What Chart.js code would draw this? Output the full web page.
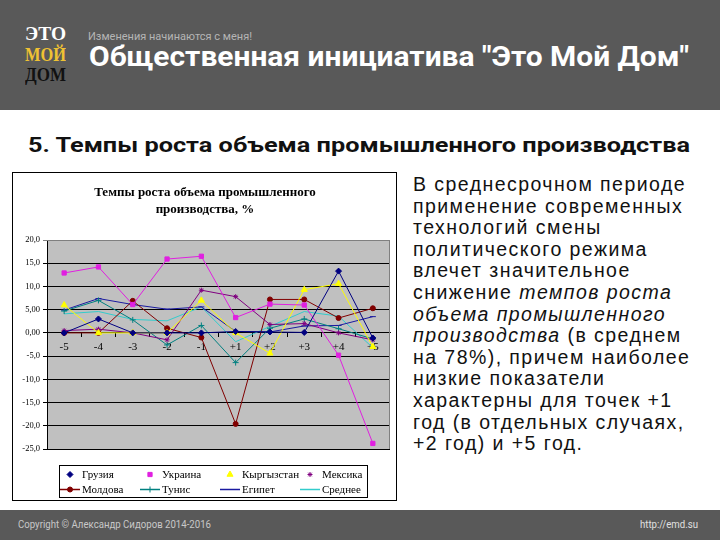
<!DOCTYPE html>
<html>
<head>
<meta charset="utf-8">
<script src="https://cdn.jsdelivr.net/npm/chart.js@4.4.1/dist/chart.umd.min.js"></script>
<style>
    html, body { margin: 0; padding: 0; }
    body { width: 720px; height: 540px; position: relative; overflow: hidden; background: #fff; font-family: 'Liberation Sans', Arial, sans-serif; }
    .band { position: absolute; left: 0; width: 720px; background: #595959; }
    .fit { position: absolute; white-space: nowrap; transform-origin: 0 0; display: inline-block; }
    .logo { font-family: 'Liberation Serif', serif; font-weight: bold; font-size: 18px; line-height: 18px; left: 25px; }
    #chartBox { position: absolute; left: 12px; top: 172px; width: 383px; height: 327px; border: 1px solid #000; }
    #note { position: absolute; left: 413px; top: 174px; font-size: 19.5px; line-height: 21.6px; color: #111; white-space: nowrap; }
</style>
</head>
<body>
<div class="band" style="top:0;height:110px"></div>
<div class="fit logo" style="top:25px;color:#fff" data-w="41">ЭТО</div>
<div class="fit logo" style="top:46px;color:#f0c233" data-w="41">МОЙ</div>
<div class="fit logo" style="top:66px;color:#111" data-w="41">ДОМ</div>
<div class="fit" style="left:88px;top:31px;font:11px/11px Roboto,sans-serif;color:#b5b5b5" data-w="164">Изменения начинаются с меня!</div>
<div class="fit" style="left:89px;top:43px;font:bold 28px/28px Roboto,sans-serif;color:#fff" data-w="600">Общественная инициатива "Это Мой Дом"</div>

<div class="fit" style="left:28px;top:135px;font:bold 20px/20px Roboto,sans-serif;color:#111" data-w="662">5. Темпы роста объема промышленного производства</div>

<div id="chartBox"><canvas id="lineChart" width="383" height="327"></canvas></div>

<div id="note"><span id="firstLine">В среднесрочном периоде</span><br>применение современных<br>технологий смены<br>политического режима<br>влечет значительное<br>снижение <i>темпов роста</i><br><i>объема промышленного</i><br><i>производства</i> (в среднем<br>на 78%), причем наиболее<br>низкие показатели<br>характерны для точек +1<br>год (в отдельных случаях,<br>+2 год) и +5 год.</div>

<div class="band" style="top:510px;height:30px"></div>
<div class="fit" style="left:18px;top:519px;font:11px/11px Roboto,sans-serif;color:#c8c8c8" data-w="193">Copyright © Александр Сидоров 2014-2016</div>
<div class="fit" style="left:640px;top:519px;font:11px/11px Roboto,sans-serif;color:#e0e0e0" data-w="58">http://emd.su</div>

<script>
// ── Данные графика ─────────────────────────────────────
const categories = ['-5', '-4', '-3', '-2', '-1', '+1', '+2', '+3', '+4', '+5'];
const yTickValues = [20, 15, 10, 5, 0, -5, -10, -15, -20, -25];
const yTickLabels = ['20,0', '15,0', '10,0', '5,00', '0,00', '-5,0', '-10,0', '-15,0', '-20,0', '-25,0'];

const georgia    = [0.0, 3.0, 0.0, 0.0, 0.0, 0.3, 0.2, 0.1, 13.3, -1.1];
const ukraine    = [12.9, 14.2, 6.1, 15.9, 16.5, 3.3, 6.2, 6.0, -4.8, -23.8];
const kyrgyzstan = [6.0, 0.0, 0.0, 0.0, 7.0, 0.0, -4.4, 9.3, 10.6, -3.0];
const mexico     = [0.5, 0.8, 0.0, -1.5, 9.2, 7.8, 1.8, 2.0, 0.0, -1.5];
const moldova    = [0.0, 0.0, 6.9, 1.0, -1.0, -19.6, 7.2, 7.2, 3.2, 5.3];
const tunisia    = [4.7, 7.0, 2.8, -2.6, 1.6, -6.4, 1.0, 3.0, 0.9, -1.3];
const egypt      = [4.9, 7.4, 6.1, 5.1, 5.6, 0.3, 0.2, 1.5, 1.6, 3.5];
const average    = [4.1, 4.6, 2.9, 2.6, 5.6, -1.9, 1.4, 4.6, 3.6, -3.2];

// ── Подгонка ширины текстов ───────────────────────────
document.querySelectorAll('.fit').forEach(el => {
    const w = el.getBoundingClientRect().width;
    el.style.transform = `scaleX(${+el.dataset.w / w})`;
});
(function () {
    const first = document.getElementById('firstLine');
    const w = first.getBoundingClientRect().width;
    document.getElementById('note').style.letterSpacing = ((273 - w) / first.textContent.length) + 'px';
})();

// ── Серия ──────────────────────────────────────────────
function series(label, data, color, pointStyle, radius, legendLine) {
    return {
        label, data,
        borderColor: color,
        backgroundColor: color,
        pointBackgroundColor: color,
        pointBorderColor: color,
        borderWidth: 1,
        pointStyle: pointStyle || 'circle',
        pointRadius: radius,
        pointBorderWidth: 1,
        tension: 0,
        legendLine
    };
}

// ── Серый фон области построения ───────────────────────
const plotBg = {
    id: 'plotBg',
    beforeDraw(chart) {
        const { ctx, chartArea: a } = chart;
        ctx.save();
        ctx.fillStyle = '#c0c0c0';
        ctx.fillRect(a.left, a.top, a.right - a.left, a.bottom - a.top);
        ctx.restore();
    },
    beforeDatasetsDraw(chart) {
        const { ctx, chartArea: a } = chart;
        ctx.save();
        ctx.strokeStyle = '#808080';
        ctx.lineWidth = 1;
        ctx.beginPath();
        ctx.moveTo(a.left, a.top + 0.5);
        ctx.lineTo(a.right - 0.5, a.top + 0.5);
        ctx.lineTo(a.right - 0.5, a.bottom);
        ctx.stroke();
        ctx.restore();
    }
};

// ── Заголовок и легенда в стиле Excel ──────────────────
const excelDeco = {
    id: 'excelDeco',
    afterDraw(chart) {
        const ctx = chart.ctx;
        ctx.save();
        ctx.fillStyle = '#000';
        ctx.textAlign = 'center';
        ctx.textBaseline = 'middle';
        ctx.font = 'bold 13px "Liberation Serif"';
        ctx.fillText('Темпы роста объема промышленного', 192, 20);
        ctx.fillText('производства, %', 192, 37);

        const x0 = 46, y0 = 292, w = 308, h = 32;
        ctx.fillStyle = '#fff';
        ctx.fillRect(x0, y0, w, h);
        ctx.strokeStyle = '#000';
        ctx.lineWidth = 1;
        ctx.strokeRect(x0 + 0.5, y0 + 0.5, w, h);
        ctx.font = '11px "Liberation Serif"';
        ctx.textAlign = 'left';
        chart.data.datasets.forEach((ds, i) => {
            const bx = x0 + 1 + (i % 4) * 80;
            const cy = y0 + 9.5 + Math.floor(i / 4) * 15;
            ctx.strokeStyle = ds.borderColor;
            ctx.fillStyle = ds.borderColor;
            if (ds.legendLine) {
                ctx.lineWidth = 1.5;
                ctx.beginPath();
                ctx.moveTo(bx, cy);
                ctx.lineTo(bx + 20, cy);
                ctx.stroke();
            }
            if (ds.pointRadius > 0) {
                ctx.lineWidth = 1;
                Chart.helpers.drawPoint(ctx, { pointStyle: ds.pointStyle, radius: ds.pointRadius, rotation: 0, borderWidth: 1 }, bx + 10, cy);
            }
            ctx.fillStyle = '#000';
            ctx.fillText(ds.label, bx + 22, cy + 1);
        });
        ctx.restore();
    }
};

new Chart(document.getElementById('lineChart'), {
    type: 'line',
    data: {
        labels: categories,
        datasets: [
            series('Грузия', georgia, '#000080', 'rectRot', 3, false),
            series('Украина', ukraine, '#e020e0', 'rect', 3, false),
            series('Кыргызстан', kyrgyzstan, '#ffff00', 'triangle', 3.5, false),
            series('Мексика', mexico, '#800080', 'star', 2.5, false),
            series('Молдова', moldova, '#800000', 'circle', 2.5, true),
            series('Тунис', tunisia, '#008080', 'cross', 3, true),
            series('Египет', egypt, '#1a1aa0', 'line', 3, true),
            series('Среднее', average, '#33cccc', 'circle', 0, true)
        ]
    },
    options: {
        responsive: false,
        animation: false,
        layout: { padding: { left: 0, right: 6, top: 67, bottom: 51 } },
        plugins: {
            legend: { display: false },
            title: { display: false },
            tooltip: { enabled: false }
        },
        scales: {
            x: {
                position: { y: 0 },
                offset: true,
                grid: { drawOnChartArea: false, offset: true, color: '#000', tickLength: 4 },
                border: { color: '#000' },
                ticks: {
                    color: '#000',
                    font: { family: 'Liberation Serif', size: 11 },
                    padding: 4,
                    maxRotation: 0,
                    autoSkip: false
                }
            },
            y: {
                min: -25,
                max: 20,
                afterFit: s => { s.width = 34; },
                grid: {
                    color: c => (c.tick && c.tick.value === 20 ? '#808080' : '#000'),
                    tickLength: 4
                },
                border: { color: '#000' },
                ticks: {
                    stepSize: 5,
                    color: '#000',
                    padding: 3,
                    font: { family: 'Liberation Serif', size: 8.5 },
                    callback: v => yTickLabels[yTickValues.indexOf(v)]
                }
            }
        }
    },
    plugins: [plotBg, excelDeco]
});
</script>
</body>
</html>
